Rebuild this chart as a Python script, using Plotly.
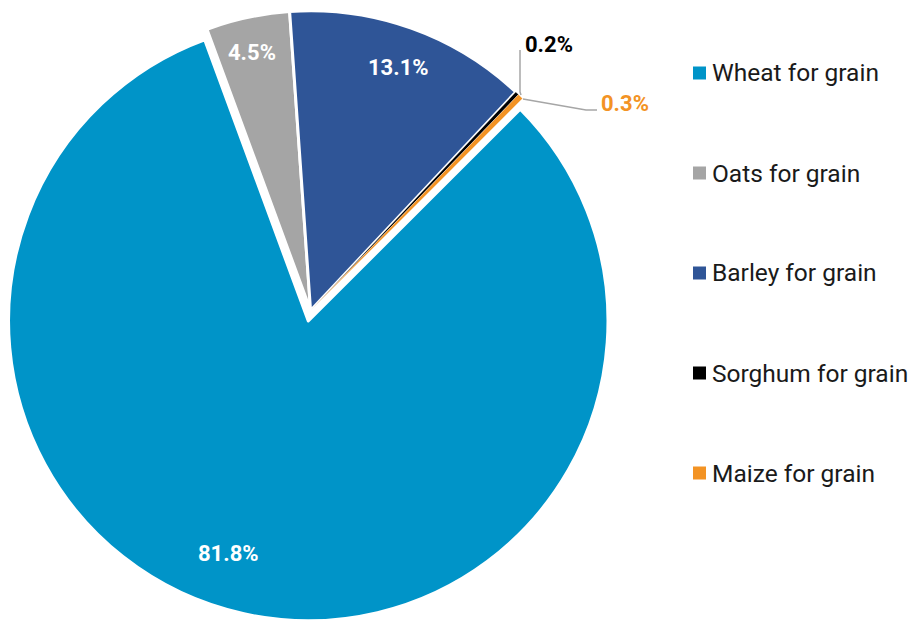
import plotly.graph_objects as go

# ---- data ----
categories = ["Wheat for grain", "Oats for grain", "Barley for grain",
              "Sorghum for grain", "Maize for grain"]
shares = [81.8, 4.5, 13.1, 0.2, 0.3]
colors = ["#0094C8", "#A5A5A5", "#2F5597", "#000000", "#F39324"]
label_colors = ["#FFFFFF", "#FFFFFF", "#FFFFFF", "#000000", "#F39324"]

W, H = 912, 621


def px(x, y):
    return x / W, 1 - y / H


fig = go.Figure()
fig.add_trace(go.Pie(
    labels=categories,
    values=shares,
    sort=False,
    direction="clockwise",
    rotation=45,
    pull=[0.036, 0, 0, 0, 0],
    marker=dict(colors=colors, line=dict(color="#FFFFFF", width=[3, 3, 3, 0.3, 0.3])),
    textinfo="none",
    hoverinfo="label+percent",
    showlegend=False,
    domain=dict(x=[0, 0.6811], y=[0, 1]),
))

# data labels (positions in pixels of the frame)
label_pos = [(228, 553), (252, 52), (398, 67), (549, 45), (625, 104)]
annotations = []
for v, (lx, ly), c in zip(shares, label_pos, label_colors):
    ax_, ay_ = px(lx, ly)
    annotations.append(dict(
        x=ax_, y=ay_, xref="paper", yref="paper", text=f"<b>{v:.1f}%</b>",
        showarrow=False, xanchor="center", yanchor="middle",
        font=dict(family="Roboto", size=22, color=c)))

shapes = []
# leader lines
leader_lines = [[(521, 95), (520, 92), (520, 50)],
                [(523, 99), (586, 110), (597, 110)]]
for pts in leader_lines:
    path = "M " + " L ".join(f"{px(x, y)[0]},{px(x, y)[1]}" for x, y in pts)
    shapes.append(dict(type="path", xref="paper", yref="paper", path=path,
                       line=dict(color="#A6A6A6", width=1.5)))

# legend
for i, (name, c) in enumerate(zip(categories, colors)):
    cy = 73 + 100 * i
    x0, y0 = px(693, cy - 6.5)
    x1, y1 = px(706, cy + 6.5)
    shapes.append(dict(type="rect", xref="paper", yref="paper",
                       x0=x0, x1=x1, y0=y1, y1=y0,
                       fillcolor=c, line=dict(width=0)))
    tx, ty = px(710, cy)
    annotations.append(dict(
        x=tx, y=ty, xref="paper", yref="paper", text=name, showarrow=False,
        xanchor="left", yanchor="middle",
        font=dict(family="Roboto", size=24.5, color="#1A1A1A")))

fig.update_layout(
    width=W, height=H,
    margin=dict(l=0, r=0, t=0, b=0),
    paper_bgcolor="#FFFFFF",
    plot_bgcolor="#FFFFFF",
    annotations=annotations,
    shapes=shapes,
)

fig.write_html("out.html",
               config={"displayModeBar": False},
               post_script="document.body.style.margin='0';"
                           "document.body.style.padding='0';"
                           "document.body.style.overflow='hidden';")
